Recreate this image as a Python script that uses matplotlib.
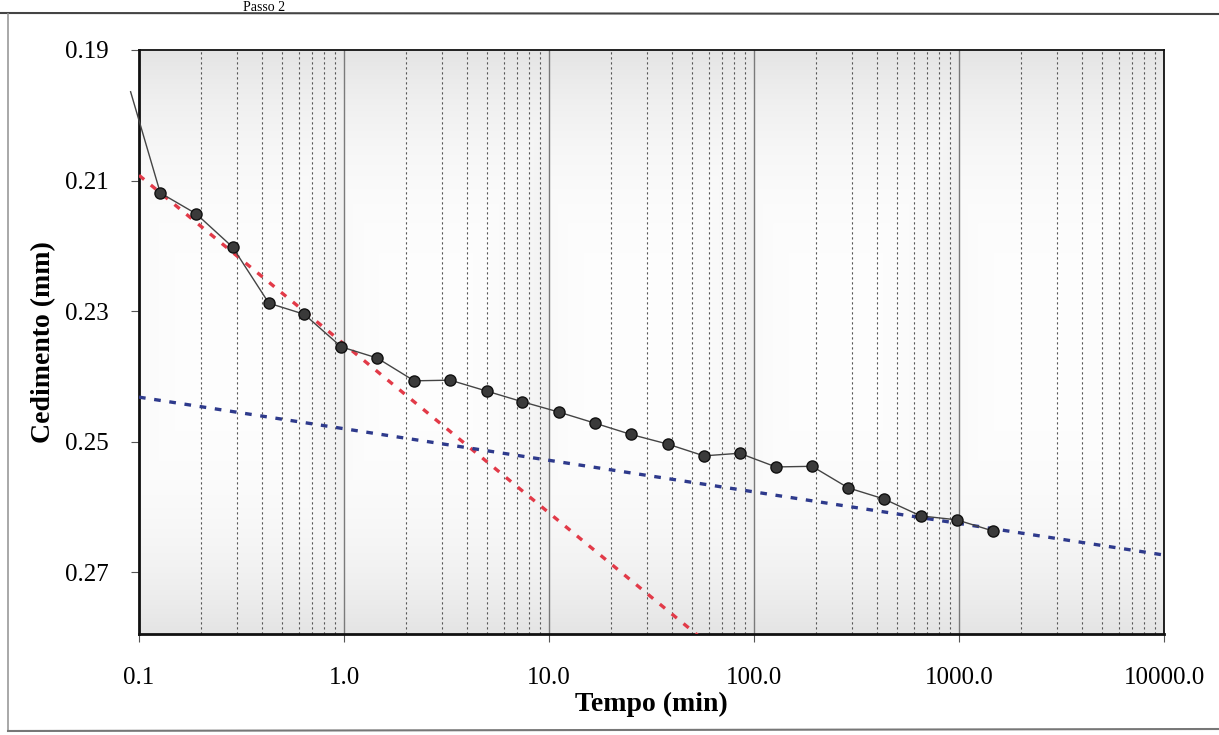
import numpy as np
import matplotlib
matplotlib.use("Agg")
import matplotlib.pyplot as plt
from matplotlib.ticker import FixedLocator, NullFormatter, LogLocator
from matplotlib.lines import Line2D

plt.rcParams['font.family'] = ['Liberation Serif', 'DejaVu Serif']

# time (min) and settlement (mm)
tempo = [0.127, 0.19, 0.286, 0.43, 0.64, 0.97, 1.45, 2.2, 3.3, 5.0, 7.4, 11.2,
         16.8, 25, 38, 57, 85, 128, 192, 288, 430, 650, 975, 1460]
cedimento = [0.2119, 0.2151, 0.2202, 0.2288, 0.2305, 0.2355, 0.2372, 0.2407,
             0.2406, 0.2423, 0.2439, 0.2455, 0.2472, 0.2489, 0.2504, 0.2522,
             0.2518, 0.2539, 0.2538, 0.2571, 0.2588, 0.2614, 0.2620, 0.2637]
# start of the curve (first reading, off the left of the axis)
t_inicio = 0.091
c_inicio = 0.1964

# trend lines (two end points each)
red_t = [0.1, 100]
red_c = [0.2092, 0.2868]
blue_t = [0.1, 10000]
blue_c = [0.2432, 0.2674]

xticks = [0.1, 1, 10, 100, 1000, 10000]
xlabels = ['0.1', '1.0', '10.0', '100.0', '1000.0', '10000.0']
yticks = [0.19, 0.21, 0.23, 0.25, 0.27]
ylabels = ['0.19', '0.21', '0.23', '0.25', '0.27']

fig = plt.figure(figsize=(12.19, 7.35), dpi=100)
ax = fig.add_axes([139/1219, 1-634/735, (1164-139)/1219, (634-50)/735])

# gradient fill of the plot area (one tile per decade)
nx, ny = 1000, 400
h = np.linspace(0, 5, nx) % 1.0
v = np.linspace(0, 1, ny)
H, V = np.meshgrid(h, v)
dh = np.abs(H - 0.4) / 0.6
dv = np.abs(V - 0.5) * 2
g = 0.995 - 0.10 * np.maximum(0.8 * dh, dv) ** 3
img = np.dstack([g, g, g])
ax.imshow(img, extent=[0, 1, 0, 1], transform=ax.transAxes, aspect='auto',
          zorder=0, interpolation='bilinear')

ax.set_xscale('log')
ax.set_xlim(0.1, 10000)
ax.set_ylim(0.2795, 0.19)

ax.xaxis.set_major_locator(FixedLocator(xticks))
ax.set_xticklabels(xlabels)
ax.xaxis.set_minor_locator(LogLocator(base=10, subs=np.arange(2, 10)))
ax.xaxis.set_minor_formatter(NullFormatter())
ax.set_yticks(yticks)
ax.set_yticklabels(ylabels)

ax.grid(True, which='major', axis='x', color='#7a7a7a', lw=1.0, ls='-', zorder=1)
ax.grid(True, which='minor', axis='x', color='#555555', lw=0.8, ls=(0, (2, 2.5)), zorder=1)

ax.tick_params(axis='both', which='major', labelsize=18, direction='out',
               length=6, width=0.8, color='#555555')
ax.tick_params(axis='x', which='major', pad=18)
ax.tick_params(axis='y', which='major', pad=16)
ax.tick_params(axis='x', which='minor', length=0)

for s in ['left', 'bottom']:
    ax.spines[s].set_linewidth(2.0)
for s in ['top', 'right']:
    ax.spines[s].set_linewidth(1.3)
for s in ax.spines.values():
    s.set_color('#111111')

# trend lines
ax.plot(red_t, red_c, color='#e23a48', lw=2.4, ls=(0, (2, 2.6)), zorder=3)
ax.plot(blue_t, blue_c, color='#2e3a8c', lw=2.4, ls=(0, (2, 2.6)), zorder=3)

# measured curve
ax.plot([t_inicio] + tempo[:1], [c_inicio] + cedimento[:1], color='#444444',
        lw=1.0, zorder=4, clip_on=False)
ax.plot(tempo, cedimento, color='#444444', lw=1.0, marker='o', markersize=8,
        markerfacecolor='#3a3a3a', markeredgecolor='#111111', markeredgewidth=1.0,
        zorder=5)

ax.set_xlabel('Tempo (min)', fontsize=20, fontweight='bold', labelpad=2)
ax.set_ylabel('Cedimento (mm)', fontsize=20, fontweight='bold', labelpad=6)

# scanned page frame and header
fig.add_artist(Line2D([0, 1], [1-13/735, 1-14/735], transform=fig.transFigure,
                      color='#444444', lw=1.5))
fig.add_artist(Line2D([8/1219, 8/1219], [1-14/735, 1-730/735],
                      transform=fig.transFigure, color='#999999', lw=1.2))
fig.add_artist(Line2D([8/1219, 1], [1-731/735, 1-729/735],
                      transform=fig.transFigure, color='#777777', lw=1.5))
fig.text(243/1219, 1-11/735, 'Passo 2', fontsize=10, va='baseline', ha='left')

fig.savefig('out.png', dpi=100)
